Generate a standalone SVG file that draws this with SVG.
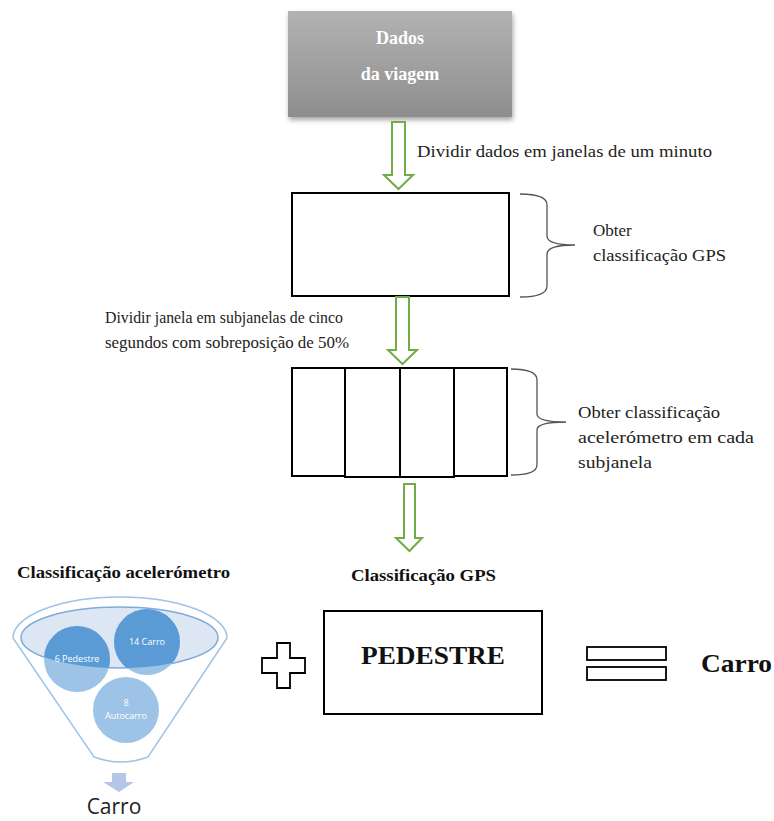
<svg xmlns="http://www.w3.org/2000/svg" width="774" height="821" viewBox="0 0 774 821">
<style>
.t{font-size:17px;fill:#222}
.b{font-weight:bold;fill:#111}
.box{fill:#fff;stroke:#000;stroke-width:2}
.garrow{fill:#fff;stroke:#70ad47;stroke-width:2;stroke-linejoin:miter}
.brace{fill:none;stroke:#555;stroke-width:1.3}
.ct{font-size:9px;fill:#fff;text-anchor:middle}
</style>
<defs>
<linearGradient id="gtop" x1="0" y1="0" x2="0" y2="1">
<stop offset="0" stop-color="#b2b2b2"/>
<stop offset="1" stop-color="#8e8e8e"/>
</linearGradient>
<filter id="sh" x="-10%" y="-10%" width="125%" height="130%">
<feDropShadow dx="1" dy="3" stdDeviation="2.5" flood-color="#000" flood-opacity="0.35"/>
</filter>
<clipPath id="inner"><ellipse cx="119.5" cy="637.5" rx="98.5" ry="30.5"/></clipPath>
</defs>

<g id="dados" font-family="Liberation Serif, Times New Roman, serif">
<rect x="288" y="11" width="224" height="106" fill="url(#gtop)" filter="url(#sh)"/>
<text x="400" y="44" font-size="18" font-weight="bold" text-anchor="middle" fill="#fff">Dados</text>
<text x="400" y="80" font-size="18" font-weight="bold" text-anchor="middle" fill="#fff">da viagem</text>
</g>

<g id="janela">
<rect class="box" x="292" y="193" width="217" height="103"/>
</g>

<g id="subjanelas">
<rect class="box" x="292" y="368" width="53" height="108"/>
<rect class="box" x="345" y="368" width="55" height="109"/>
<rect class="box" x="400" y="368" width="54" height="109"/>
<rect class="box" x="454" y="368" width="53" height="108"/>
</g>

<g id="connectors">
<path class="garrow" d="M392,122 L405,122 L405,175 L413,175 L398.5,189 L384,175 L392,175 Z"/>
<path class="garrow" d="M396,297 L409,297 L409,350 L417,350 L402.5,364 L388,350 L396,350 Z"/>
<path class="garrow" d="M404,484 L415,484 L415,538 L422,538 L409.5,551 L396,538 L404,538 Z"/>
<path class="brace" d="M520,194 Q547,194 547,205 L547,236 Q547,245 575,245 Q547,245 547,254 L547,286 Q547,297 520,297"/>
<path class="brace" d="M511,369 Q537,369 537,380 L537,414 Q537,422 566,422 Q537,422 537,430 L537,465 Q537,475 511,475"/>
</g>

<g id="labels" font-family="Liberation Serif, Times New Roman, serif">
<text class="t" x="417" y="157" textLength="295" lengthAdjust="spacingAndGlyphs">Dividir dados em janelas de um minuto</text>
<text class="t" x="593" y="236">Obter</text>
<text class="t" x="593" y="261" textLength="133" lengthAdjust="spacingAndGlyphs">classificação GPS</text>
<text class="t" x="105" y="323" textLength="238" lengthAdjust="spacingAndGlyphs">Dividir janela em subjanelas de cinco</text>
<text class="t" x="105" y="348" textLength="244" lengthAdjust="spacingAndGlyphs">segundos com sobreposição de 50%</text>
<text class="t" x="578" y="418" textLength="142" lengthAdjust="spacingAndGlyphs">Obter classificação</text>
<text class="t" x="578" y="443" textLength="176" lengthAdjust="spacingAndGlyphs">acelerómetro em cada</text>
<text class="t" x="578" y="468" textLength="74" lengthAdjust="spacingAndGlyphs">subjanela</text>
<text class="b" x="17" y="578" font-size="17" textLength="213" lengthAdjust="spacingAndGlyphs">Classificação acelerómetro</text>
<text class="b" x="351" y="581" font-size="17" textLength="145" lengthAdjust="spacingAndGlyphs">Classificação GPS</text>
</g>

<g id="funil">
<path d="M13,638 A107,41 0 0 1 227,638 L148,757 Q121,767 94,757 Z" fill="#fff" stroke="#9dc3e6" stroke-width="1.5"/>
<ellipse cx="119.5" cy="637.5" rx="98.5" ry="30.5" fill="#dde6f3" stroke="#7fabdc" stroke-width="1.5"/>
<circle cx="77" cy="659" r="33" fill="#9dc3e6"/>
<circle cx="147" cy="642" r="33" fill="#9dc3e6"/>
<circle cx="126" cy="710" r="33" fill="#9dc3e6"/>
<g clip-path="url(#inner)">
<circle cx="77" cy="659" r="33" fill="#5b9bd5"/>
<circle cx="147" cy="642" r="33" fill="#5b9bd5"/>
</g>
<g font-family="Open Sans, Liberation Sans, sans-serif">
<text class="ct" x="77" y="662">6 Pedestre</text>
<text class="ct" x="147" y="645">14 Carro</text>
<text class="ct" x="126" y="706">8</text>
<text class="ct" x="126" y="719">Autocarro</text>
<path d="M112,773 L126,773 L126,782 L134,782 L119,792 L103,782 L112,782 Z" fill="#b4c7e7"/>
<text x="114" y="814" font-size="21" fill="#222" text-anchor="middle">Carro</text>
</g>
</g>

<g id="mais">
<path d="M277,643 L290,643 L290,658 L305,658 L305,673 L290,673 L290,688 L277,688 L277,673 L262,673 L262,658 L277,658 Z" fill="#fff" stroke="#000" stroke-width="1.8"/>
</g>

<g id="pedestre" font-family="Liberation Serif, Times New Roman, serif">
<rect class="box" x="324" y="611" width="218" height="103"/>
<text class="b" x="361" y="664" font-size="26" textLength="144" lengthAdjust="spacingAndGlyphs">PEDESTRE</text>
</g>

<g id="igual">
<rect x="587" y="647" width="79" height="13" fill="#fff" stroke="#000" stroke-width="1.8"/>
<rect x="587" y="667" width="79" height="13" fill="#fff" stroke="#000" stroke-width="1.8"/>
</g>

<g id="resultado" font-family="Liberation Serif, Times New Roman, serif">
<text class="b" x="701" y="672" font-size="26" textLength="71" lengthAdjust="spacingAndGlyphs">Carro</text>
</g>
</svg>
